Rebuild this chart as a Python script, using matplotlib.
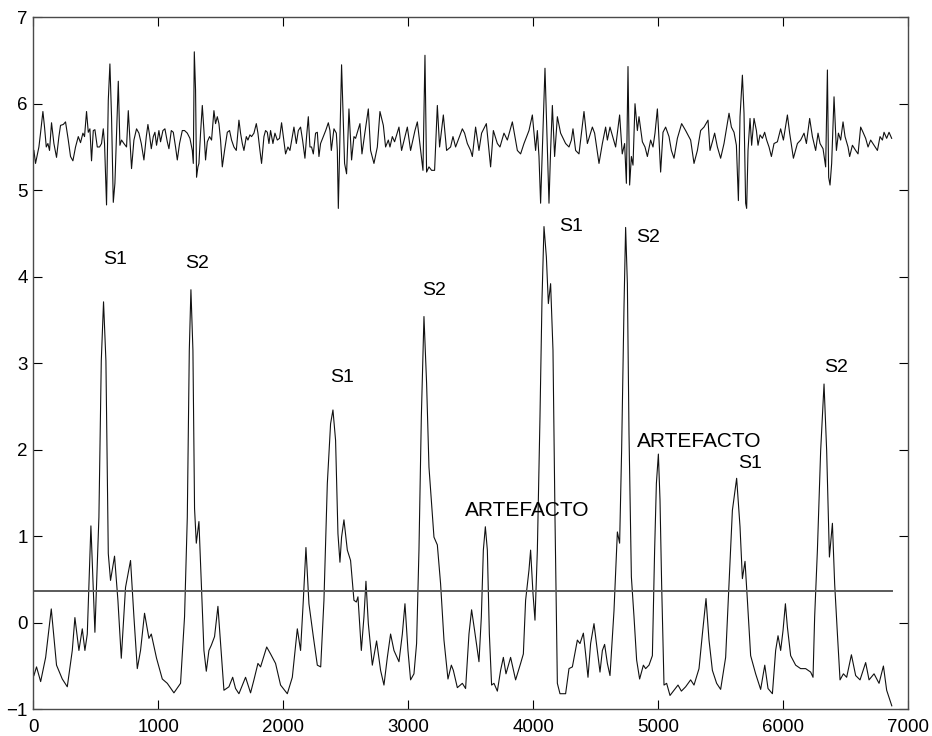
import matplotlib
matplotlib.use("Agg")
import matplotlib.pyplot as plt

plt.rcParams["font.family"] = ["Liberation Sans", "DejaVu Sans"]

# upper trace: raw signal (offset around 5.6)
raw_x = [
    5, 18, 45, 58, 77, 90, 104, 117, 130, 146, 165, 186, 205, 218, 240, 258, 280, 298, 317, 338,
    360, 378, 397, 410, 426, 440, 453, 466, 480, 493, 512, 530, 546, 560, 570, 586, 600, 613, 626, 640,
    653, 666, 680, 693, 706, 725, 746, 760, 773, 786, 805, 826, 845, 864, 885, 904, 917, 930, 944, 960,
    973, 986, 1005, 1018, 1037, 1053, 1072, 1085, 1104, 1120, 1138, 1152, 1170, 1192, 1210, 1232, 1253, 1272, 1280, 1288,
    1298, 1306, 1317, 1325, 1338, 1352, 1365, 1378, 1392, 1410, 1426, 1445, 1458, 1472, 1485, 1498, 1512, 1530, 1552, 1570,
    1586, 1605, 1624, 1645, 1658, 1672, 1685, 1704, 1717, 1733, 1746, 1765, 1784, 1797, 1813, 1826, 1845, 1858, 1872, 1885,
    1898, 1917, 1933, 1952, 1970, 1986, 2000, 2018, 2037, 2053, 2072, 2085, 2104, 2120, 2138, 2154, 2173, 2186, 2200, 2213,
    2226, 2240, 2258, 2272, 2285, 2298, 2320, 2339, 2360, 2373,
    2384, 2405, 2424, 2432, 2440, 2466, 2490, 2506, 2525, 2546, 2565, 2578, 2613, 2629, 2653, 2680, 2698, 2725, 2752, 2773,
    2800, 2818, 2840, 2853, 2872, 2890, 2925, 2946, 2992, 3018, 3053, 3072, 3098, 3117, 3133, 3146, 3165, 3186, 3210, 3232,
    3250, 3280, 3306, 3338, 3357, 3378, 3432, 3450, 3472, 3498, 3512, 3538, 3565, 3586, 3610, 3624, 3645, 3658, 3680, 3712,
    3733, 3765, 3792, 3832, 3872, 3898, 3925, 3965, 3992, 4018, 4032, 4045, 4058, 4093, 4125, 4138, 4152, 4170, 4192, 4218,
    4258, 4285, 4304, 4317, 4338, 4365, 4405, 4432, 4472, 4490, 4525, 4552, 4578, 4592, 4613, 4658, 4690,
    4711, 4730, 4744, 4757, 4770, 4784, 4797, 4813, 4832, 4845, 4872, 4893, 4912, 4938, 4957, 4973, 4992, 5000, 5018, 5037,
    5058, 5085, 5104, 5125, 5152, 5186, 5218, 5258, 5285, 5312, 5338, 5365, 5397, 5413, 5432, 5450, 5472, 5498, 5525, 5565,
    5584, 5605, 5624, 5640, 5653, 5672, 5685, 5698, 5706, 5717, 5733, 5746, 5765, 5784, 5797, 5813, 5832, 5850, 5866, 5885,
    5904, 5925, 5952, 5978, 6000, 6032, 6050, 6080, 6112, 6138, 6165, 6184, 6210, 6232, 6258, 6277, 6293, 6317, 6338, 6352,
    6362, 6373, 6386, 6405, 6424, 6440, 6458, 6477, 6493, 6517, 6530, 6552, 6578, 6597, 6618, 6637, 6658, 6677, 6698, 6725,
    6752, 6773, 6792, 6805, 6826, 6845, 6866,
]
raw_y = [
    5.46, 5.31, 5.50, 5.66, 5.91, 5.73, 5.50, 5.54, 5.46, 5.78, 5.54, 5.38, 5.62, 5.75, 5.76, 5.79, 5.58, 5.39, 5.34, 5.50,
    5.62, 5.55, 5.66, 5.62, 5.91, 5.67, 5.71, 5.34, 5.69, 5.70, 5.50, 5.50, 5.54, 5.71, 5.54, 4.83, 6.04, 6.46, 5.85, 4.86,
    5.08, 5.66, 6.26, 5.52, 5.58, 5.54, 5.50, 5.92, 5.58, 5.25, 5.58, 5.71, 5.66, 5.54, 5.35, 5.62, 5.76, 5.64, 5.48, 5.62,
    5.67, 5.52, 5.69, 5.56, 5.69, 5.71, 5.56, 5.48, 5.69, 5.67, 5.50, 5.35, 5.54, 5.69, 5.69, 5.66, 5.60, 5.46, 5.31, 6.60,
    6.16, 5.15, 5.27, 5.31, 5.66, 5.98, 5.69, 5.35, 5.56, 5.62, 5.58, 5.92, 5.77, 5.85, 5.77, 5.58, 5.27, 5.46, 5.67, 5.69,
    5.58, 5.50, 5.46, 5.81, 5.66, 5.54, 5.46, 5.62, 5.58, 5.64, 5.62, 5.66, 5.77, 5.66, 5.46, 5.31, 5.62, 5.69, 5.67, 5.54,
    5.69, 5.54, 5.66, 5.58, 5.60, 5.78, 5.62, 5.42, 5.50, 5.46, 5.62, 5.73, 5.54, 5.69, 5.73, 5.58, 5.37, 5.62, 5.85, 5.50,
    5.50, 5.42, 5.66, 5.67, 5.39, 5.54, 5.62, 5.69, 5.78, 5.69,
    5.46, 5.71, 5.66, 5.46, 4.79, 6.45, 5.31, 5.19, 5.94, 5.35, 5.62, 5.60, 5.77, 5.42, 5.67, 5.94, 5.46, 5.31, 5.50, 5.91,
    5.75, 5.50, 5.58, 5.50, 5.62, 5.56, 5.73, 5.46, 5.73, 5.46, 5.69, 5.79, 5.46, 5.23, 6.56, 5.21, 5.27, 5.23, 5.23, 5.98,
    5.50, 5.87, 5.46, 5.50, 5.62, 5.50, 5.71, 5.66, 5.54, 5.46, 5.39, 5.73, 5.46, 5.66, 5.73, 5.77, 5.46, 5.27, 5.69, 5.54,
    5.50, 5.66, 5.58, 5.79, 5.46, 5.42, 5.54, 5.69, 5.87, 5.46, 5.69, 5.39, 4.85, 6.41, 4.85, 5.46, 5.98, 5.39, 5.85, 5.66,
    5.54, 5.50, 5.58, 5.71, 5.46, 5.42, 5.91, 5.54, 5.73, 5.66, 5.31, 5.54, 5.73, 5.58, 5.73, 5.50, 5.87,
    5.42, 5.54, 5.08, 6.43, 5.06, 5.39, 5.29, 6.00, 5.69, 5.85, 5.56, 5.50, 5.39, 5.58, 5.50, 5.66, 5.94, 5.73, 5.21, 5.67,
    5.73, 5.62, 5.46, 5.37, 5.60, 5.77, 5.69, 5.58, 5.31, 5.46, 5.69, 5.73, 5.81, 5.46, 5.56, 5.66, 5.50, 5.37, 5.54, 5.89,
    5.73, 5.67, 5.52, 4.88, 5.85, 6.33, 5.89, 4.85, 4.79, 5.46, 5.83, 5.52, 5.83, 5.69, 5.52, 5.64, 5.60, 5.67, 5.58, 5.50,
    5.39, 5.54, 5.56, 5.71, 5.58, 5.87, 5.66, 5.37, 5.54, 5.58, 5.66, 5.54, 5.83, 5.62, 5.46, 5.66, 5.54, 5.48, 5.27, 6.39,
    5.15, 5.06, 5.31, 6.08, 5.46, 5.66, 5.58, 5.79, 5.62, 5.50, 5.39, 5.52, 5.46, 5.42, 5.73, 5.67, 5.60, 5.50, 5.58, 5.52,
    5.46, 5.62, 5.58, 5.67, 5.60, 5.67, 5.60,
]

# lower trace: envelope
env_x = [
    5, 26, 59, 99, 144, 186, 232, 272, 312, 333, 365, 392, 413, 432, 461, 493, 525, 544, 562, 581,
    600, 618, 650, 677, 704, 738, 778, 805, 832, 858, 890, 925, 944, 986, 1032, 1072, 1125, 1178, 1210, 1232,
    1248, 1261, 1277, 1290, 1304, 1325, 1344, 1365, 1384, 1405, 1424, 1450, 1477, 1498, 1525, 1565, 1595, 1618, 1645, 1698,
    1738, 1765, 1797, 1818, 1867, 1898, 1938, 1978, 2032, 2072, 2112, 2138, 2160, 2181, 2205, 2240, 2272, 2299, 2325, 2352,
    2378, 2397, 2418, 2437, 2453, 2466, 2485, 2512, 2538, 2565, 2584, 2597, 2624, 2645, 2661, 2680, 2712, 2746, 2778, 2805,
    2832, 2858, 2885, 2925, 2952, 2973, 2997, 3018, 3045, 3066, 3085, 3104, 3125, 3146, 3165, 3205, 3232, 3258, 3285, 3317,
    3344, 3360, 3392, 3432, 3458, 3485, 3506, 3530, 3565, 3584, 3600, 3616, 3632, 3648, 3666, 3685, 3712, 3738, 3760, 3781,
    3818, 3858, 3898, 3920, 3938, 3965, 3978, 3997, 4013, 4032, 4053, 4069, 4085, 4104, 4120, 4138, 4157, 4173, 4192, 4213,
    4258, 4285, 4312, 4352, 4373, 4400, 4418, 4437, 4458, 4485, 4512, 4533, 4552, 4570, 4592, 4613, 4645, 4672, 4690, 4706,
    4725, 4738, 4752, 4765, 4784, 4805, 4826, 4850, 4880, 4898, 4925, 4952, 4970, 4984, 5000, 5013, 5026, 5045, 5066, 5093,
    5125, 5157, 5184, 5218, 5258, 5285, 5325, 5352, 5381, 5405, 5432, 5466, 5498, 5538, 5565, 5592, 5626, 5653, 5672, 5693,
    5712, 5738, 5778, 5818, 5851, 5877, 5912, 5938, 5957, 5978, 5997, 6016, 6032, 6058, 6098, 6138, 6178, 6218, 6237, 6250,
    6272, 6298, 6325, 6346, 6368, 6392, 6410, 6432, 6453, 6480, 6506, 6544, 6578, 6613, 6658, 6685, 6725, 6765, 6800, 6826,
    6867,
]
env_y = [
    -0.61, -0.51, -0.68, -0.40, 0.16, -0.49, -0.65, -0.74, -0.32, 0.06, -0.32, -0.07, -0.32, -0.13, 1.12, -0.11, 1.22, 3.03, 3.71, 3.03,
    0.80, 0.49, 0.77, 0.26, -0.41, 0.41, 0.72, 0.07, -0.53, -0.32, 0.11, -0.18, -0.13, -0.41, -0.65, -0.70, -0.81, -0.70, 0.07, 1.22,
    3.15, 3.85, 3.15, 1.32, 0.92, 1.17, 0.45, -0.32, -0.56, -0.32, -0.26, -0.16, 0.19, -0.24, -0.78, -0.74, -0.63, -0.76, -0.82, -0.63,
    -0.81, -0.66, -0.47, -0.51, -0.28, -0.36, -0.47, -0.72, -0.82, -0.63, -0.07, -0.32, 0.26, 0.87, 0.22, -0.16, -0.49, -0.51, 0.26, 1.61,
    2.30, 2.46, 2.11, 1.03, 0.70, 0.99, 1.19, 0.84, 0.72, 0.26, 0.24, 0.30, -0.32, 0.07, 0.48, -0.01, -0.49, -0.21, -0.55, -0.72,
    -0.40, -0.13, -0.32, -0.45, -0.13, 0.22, -0.32, -0.66, -0.59, -0.24, 0.84, 2.38, 3.54, 2.77, 1.80, 0.99, 0.90, 0.45, -0.20, -0.65,
    -0.49, -0.55, -0.75, -0.70, -0.76, -0.13, 0.15, -0.09, -0.45, 0.07, 0.84, 1.11, 0.84, -0.13, -0.72, -0.70, -0.79, -0.55, -0.40, -0.59,
    -0.40, -0.66, -0.47, -0.36, 0.26, 0.61, 0.84, 0.34, 0.03, 0.84, 2.38, 3.73, 4.58, 4.23, 3.69, 3.92, 3.15, 1.22, -0.70, -0.82,
    -0.82, -0.53, -0.51, -0.20, -0.24, -0.12, -0.36, -0.63, -0.24, -0.01, -0.32, -0.57, -0.32, -0.25, -0.47, -0.61, 0.14, 1.05, 0.92, 1.99,
    3.65, 4.57, 3.92, 2.19, 0.53, 0.07, -0.43, -0.65, -0.49, -0.53, -0.49, -0.38, 0.84, 1.61, 1.95, 1.42, 0.45, -0.72, -0.70, -0.84,
    -0.78, -0.72, -0.79, -0.74, -0.66, -0.72, -0.53, -0.13, 0.28, -0.20, -0.55, -0.70, -0.77, -0.40, 0.45, 1.30, 1.67, 1.11, 0.51, 0.71,
    0.26, -0.38, -0.59, -0.77, -0.49, -0.76, -0.82, -0.32, -0.15, -0.32, -0.09, 0.22, -0.05, -0.38, -0.49, -0.53, -0.53, -0.57, -0.63, 0.07,
    0.84, 1.99, 2.76, 1.99, 0.76, 1.15, 0.45, -0.13, -0.66, -0.59, -0.63, -0.37, -0.61, -0.66, -0.46, -0.66, -0.59, -0.70, -0.50, -0.78,
    -0.96,
]

threshold = 0.37
threshold_span = [0, 6867]

# annotations: (text, x, y)
labels = ["S1", "S2", "S1", "S2", "ARTEFACTO", "S1", "S2", "ARTEFACTO", "S1", "S2"]
label_x = [560, 1218, 2373, 3112, 3450, 4210, 4826, 4832, 5640, 6325]
label_y = [4.20, 4.15, 2.83, 3.84, 1.30, 4.58, 4.45, 2.09, 1.84, 2.95]

fig = plt.figure(figsize=(9.32, 7.36), dpi=100)
ax = fig.add_axes([0.0357, 0.0363, 0.9390, 0.9403])

ax.plot(raw_x, raw_y, color="#111111", linewidth=0.8)
ax.plot(env_x, env_y, color="#111111", linewidth=0.8)
ax.plot(threshold_span, [threshold, threshold], color="#5a5a5a", linewidth=1.4)

for txt, tx, ty in zip(labels, label_x, label_y):
    size = 15 if len(txt) > 2 else 14
    ax.text(tx, ty, txt, fontsize=size, ha="left", va="center", color="black")

ax.set_xlim(0, 7000)
ax.set_ylim(-1, 7)
ax.set_xticks(range(0, 7001, 1000))
ax.set_yticks(range(-1, 8))
ax.tick_params(direction="in", length=6.5, width=0.8, top=True, right=True,
               labelsize=13.5, colors="black")
ax.tick_params(axis="x", pad=7)
ax.tick_params(axis="y", pad=4)
for spine in ax.spines.values():
    spine.set_color("#4a4a4a")
    spine.set_linewidth(1.0)

fig.savefig("out.png", dpi=100)
